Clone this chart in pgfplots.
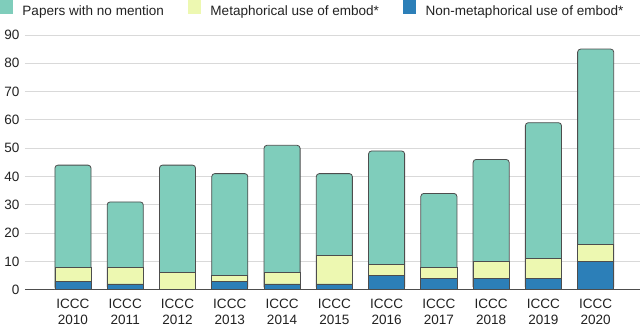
\documentclass[border=0pt]{standalone}
\usepackage{pgfplots}
\pgfplotsset{compat=1.18}
\usepackage{fontspec}
\setmainfont{Liberation Sans}
\definecolor{cteal}{HTML}{7FCDBB}
\definecolor{cyel}{HTML}{EDF8B1}
\definecolor{cblue}{HTML}{2C7FB8}
\definecolor{cedge}{HTML}{4D4D4D}
\definecolor{cgrid}{HTML}{D9D9D9}
\definecolor{ctext}{HTML}{222222}

% totals, top of yellow (blue + yellow), blue -- drawn on top of each other
\pgfplotstableread{
x total mid low
0 44 8 3
1 31 8 2
2 44 6 0
3 41 5 3
4 51 6 2
5 41 12 2
6 49 9 5
7 34 8 4
8 46 10 4
9 59 11 4
10 85 16 10
}\counts

\begin{document}
\begin{tikzpicture}
\begin{axis}[
    scale only axis,
    width=613pt, height=254pt,
    ybar, bar width=36pt, bar shift=0pt,
    xmin=-0.92, xmax=10.84,
    ymin=0, ymax=90,
    xtick={0,...,10},
    xticklabels={{ICCC\\2010},{ICCC\\2011},{ICCC\\2012},{ICCC\\2013},{ICCC\\2014},{ICCC\\2015},{ICCC\\2016},{ICCC\\2017},{ICCC\\2018},{ICCC\\2019},{ICCC\\2020}},
    ytick={0,10,...,90},
    axis x line*=bottom, axis y line*=left,
    x axis line style={draw=cedge, line width=0.8pt, -},
    y axis line style={draw=none},
    major tick length=0pt,
    ymajorgrids, grid style={cgrid, line width=0.8pt},
    tick label style={font=\fontsize{13.5}{16}\selectfont, text=ctext},
    xticklabel style={align=center, inner xsep=0pt, inner ysep=1.5pt, yshift=-8pt},
    yticklabel style={xshift=-2pt},
    /pgf/number format/assume math mode=true,
    every axis plot/.append style={draw=cedge, line width=0.8pt},
    legend style={at={(-25pt,1)}, anchor=south west, yshift=18pt, draw=none,
        font=\fontsize{13.5}{15}\selectfont, text=ctext, inner sep=0pt,
        nodes={inner sep=0pt},
        /tikz/every even column/.append style={column sep=24pt}},
    legend columns=3,
    legend image code/.code={\fill[#1,draw=none,rounded corners=0pt] (0pt,-3pt) rectangle (13pt,11pt); \path (22pt,0pt);},
]
\addplot[fill=cteal, rounded corners=3pt] table[x=x, y=total] {\counts};
\addplot[fill=cyel] table[x=x, y=mid] {\counts};
\addplot[fill=cblue] table[x=x, y=low] {\counts};
\legend{Papers with no mention, Metaphorical use of embod*, Non-metaphorical use of embod*}
\end{axis}
\end{tikzpicture}
\end{document}
